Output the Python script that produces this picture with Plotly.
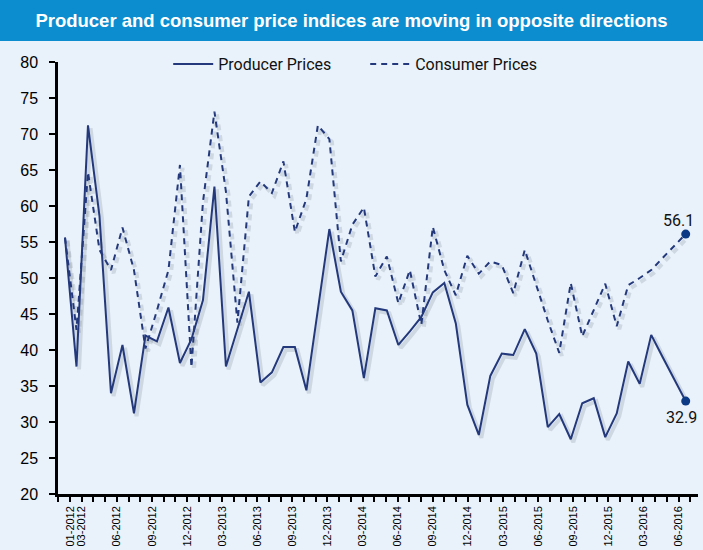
import plotly.graph_objects as go

# ---- data (monthly, 01-2012 .. 07-2016) ----
month_index = list(range(55))
producer = [55.6, 37.7, 71.2, 58.6, 34.0, 40.7, 31.2, 42.0, 41.2, 45.9,
            38.2, 41.5, 46.9, 62.7, 37.7, 42.9, 48.1, 35.5, 36.9, 40.4,
            40.4, 34.4, 45.5, 56.8, 48.1, 45.5, 36.1, 45.8, 45.5, 40.7,
            42.6, 44.6, 48.0, 49.3, 43.7, 32.4, 28.2, 36.4, 39.5, 39.3,
            42.9, 39.5, 29.3, 31.1, 27.6, 32.6, 33.3, 27.9, 31.2, 38.4,
            35.3, 42.1, 39.0, 35.9, 32.9]
consumer = [55.6, 42.8, 64.7, 53.9, 51.1, 57.0, 51.1, 40.2, 45.5, 51.1,
            65.7, 37.6, 60.5, 73.1, 62.0, 43.8, 61.3, 63.4, 61.8, 66.2,
            56.4, 61.0, 71.2, 69.3, 52.3, 57.4, 59.8, 50.2, 53.0, 46.5,
            51.1, 43.5, 57.1, 51.1, 47.6, 53.1, 50.6, 52.3, 51.8, 47.9,
            53.9, 49.0, 44.1, 39.6, 49.3, 41.9, 45.5, 49.2, 43.3, 49.0,
            50.0, 51.1, 52.8, 54.4, 56.1]
tick_labels = ["01-2012", "03-2012", "06-2012", "09-2012", "12-2012",
               "03-2013", "06-2013", "09-2013", "12-2013", "03-2014",
               "06-2014", "09-2014", "12-2014", "03-2015", "06-2015",
               "09-2015", "12-2015", "03-2016", "06-2016"]
tick_slots = [1, 2, 5, 8, 11, 14, 17, 20, 23, 26, 29, 32, 35, 38, 41, 44, 47, 50, 53]
series_names = ["Producer Prices", "Consumer Prices"]

# ---- style ----
LINE = "#23397c"
DOT = "#0c3a85"
BG = "#e9f2fb"
BANNER = "#0b8dcf"
SHADOW = "rgba(70,80,100,0.16)"
SANS = "Liberation Sans, Arial, sans-serif"
LEG = "Roboto, DejaVu Sans, sans-serif"

TICK0 = -0.58
TICK_STEP = 1.018
n_ticks = 55
tickvals = [TICK0 + TICK_STEP * k for k in range(n_ticks)]
ticktext = [""] * n_ticks
for s, lab in zip(tick_slots, tick_labels):
    ticktext[s] = lab

# soft drop shadow offsets (in axis units)
SHX, SHY = 0.22, -0.4

fig = go.Figure()
fig.add_trace(go.Scatter(x=[v + SHX for v in month_index], y=[v + SHY for v in producer],
                         mode="lines", line=dict(color=SHADOW, width=4),
                         showlegend=False, hoverinfo="skip"))
fig.add_trace(go.Scatter(x=[v + SHX for v in month_index], y=[v + SHY for v in consumer],
                         mode="lines", line=dict(color=SHADOW, width=4, dash="6px,5px"),
                         showlegend=False, hoverinfo="skip"))
fig.add_trace(go.Scatter(x=month_index, y=producer, mode="lines", name=series_names[0],
                         line=dict(color=LINE, width=2)))
fig.add_trace(go.Scatter(x=month_index, y=consumer, mode="lines", name=series_names[1],
                         line=dict(color=LINE, width=2, dash="6px,5px")))
# end markers
fig.add_trace(go.Scatter(x=[month_index[-1], month_index[-1]], y=[consumer[-1], producer[-1]],
                         mode="markers", marker=dict(color=DOT, size=9), showlegend=False,
                         hoverinfo="skip"))

fig.add_annotation(x=month_index[-1], y=consumer[-1], text=f"{consumer[-1]:.1f}", showarrow=False,
                   xanchor="center", yanchor="bottom", xshift=-7, yshift=2,
                   font=dict(family=LEG, size=16, color="#111111"))
fig.add_annotation(x=month_index[-1], y=producer[-1], text=f"{producer[-1]:.1f}", showarrow=False,
                   xanchor="center", yanchor="top", xshift=-4, yshift=-5,
                   font=dict(family=LEG, size=16, color="#111111"))

# banner
fig.add_shape(type="rect", xref="paper", yref="paper", x0=-0.2, x1=1.2,
              y0=(494 - 41) / 432, y1=1.3, fillcolor=BANNER, line=dict(width=0), layer="below")

fig.update_layout(
    width=703, height=550,
    margin=dict(l=58, r=5, t=62, b=56, autoexpand=False),
    paper_bgcolor=BG, plot_bgcolor=BG,
    title=dict(text="<b>Producer and consumer price indices are moving in opposite directions</b>",
               x=0.5, xref="container", xanchor="center",
               y=1 - 21 / 550, yref="container", yanchor="middle",
               font=dict(family=SANS, size=18.5, color="white")),
    showlegend=True,
    legend=dict(orientation="h", x=0.48, xanchor="center", y=(494 - 64) / 432, yanchor="middle",
                bgcolor="rgba(0,0,0,0)", font=dict(family=LEG, size=16, color="#111111"),
                itemwidth=40, entrywidth=142),
    xaxis=dict(range=[-0.609, 55.07], showgrid=False, zeroline=False, automargin=False,
               showline=True, linecolor="black", linewidth=2.5,
               tickmode="array", tickvals=tickvals, ticktext=ticktext,
               ticks="outside", ticklen=5, tickwidth=2, tickcolor="black",
               ticklabelstandoff=0,
               tickangle=-90, tickfont=dict(family=SANS, size=11, color="black")),
    yaxis=dict(range=[20, 80], dtick=5, showgrid=False, zeroline=False, automargin=False,
               showline=True, linecolor="black", linewidth=2.5,
               ticks="outside", ticklen=6, tickwidth=2, tickcolor="black",
               ticklabelstandoff=8,
               tickfont=dict(family=SANS, size=16, color="black")),
)

fig.write_html("out.html")
